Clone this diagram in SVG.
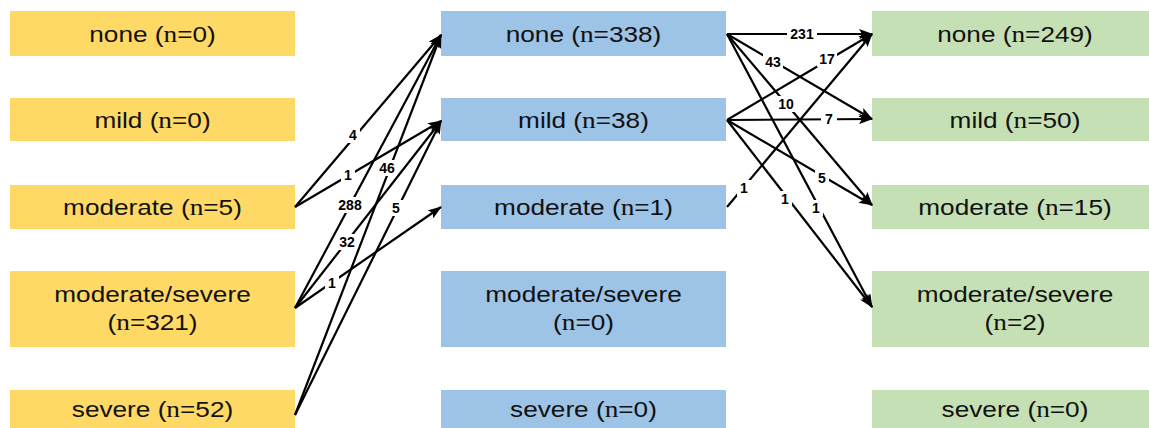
<svg xmlns="http://www.w3.org/2000/svg" width="1149" height="428" viewBox="0 0 1149 428">
  <style>
    .box-a { fill: #FFD966; }
    .box-b { fill: #9DC3E6; }
    .box-c { fill: #C5E0B4; }
    .lbl { font-family: "Liberation Sans", Arial, sans-serif; font-size: 22px; fill: #111; text-anchor: middle; }
    .n { font-family: "Liberation Serif", "Times New Roman", serif; font-size: 23px; }
    .edge { stroke: #000; stroke-width: 2.2; fill: none; marker-end: url(#arrow); }
    .elbl { font-family: "Liberation Sans", Arial, sans-serif; font-size: 14px; font-weight: bold; fill: #000; text-anchor: middle; }
    .bg { fill: #fff; }
  </style>
  <defs>
    <marker id="arrow" viewBox="0 0 14 10" refX="13" refY="5" markerWidth="14" markerHeight="10" markerUnits="userSpaceOnUse" orient="auto">
      <path d="M0,0 L14,5 L0,10 L3,5 z" fill="#000"/>
    </marker>
  </defs>

  <!-- baseline column -->
  <g id="a-none"><rect class="box-a" x="10" y="11" width="285" height="45"/>
    <text class="lbl" transform="translate(152.5,42) scale(1.19,1)">none (<tspan class="n">n</tspan>=0)</text></g>
  <g id="a-mild"><rect class="box-a" x="10" y="98" width="285" height="43"/>
    <text class="lbl" transform="translate(152.5,128) scale(1.19,1)">mild (<tspan class="n">n</tspan>=0)</text></g>
  <g id="a-moderate"><rect class="box-a" x="10" y="185" width="285" height="44"/>
    <text class="lbl" transform="translate(152.5,215) scale(1.19,1)">moderate (<tspan class="n">n</tspan>=5)</text></g>
  <g id="a-modsev"><rect class="box-a" x="10" y="271" width="285" height="76"/>
    <text class="lbl" transform="translate(152.5,302) scale(1.19,1)">moderate/severe</text>
    <text class="lbl" transform="translate(152.5,330) scale(1.19,1)">(<tspan class="n">n</tspan>=321)</text></g>
  <g id="a-severe"><rect class="box-a" x="10" y="390" width="285" height="50"/>
    <text class="lbl" transform="translate(152.5,417) scale(1.19,1)">severe (<tspan class="n">n</tspan>=52)</text></g>

  <!-- middle column -->
  <g id="b-none"><rect class="box-b" x="441" y="11" width="285" height="45"/>
    <text class="lbl" transform="translate(583.5,42) scale(1.19,1)">none (<tspan class="n">n</tspan>=338)</text></g>
  <g id="b-mild"><rect class="box-b" x="441" y="98" width="285" height="43"/>
    <text class="lbl" transform="translate(583.5,128) scale(1.19,1)">mild (<tspan class="n">n</tspan>=38)</text></g>
  <g id="b-moderate"><rect class="box-b" x="441" y="185" width="285" height="44"/>
    <text class="lbl" transform="translate(583.5,215) scale(1.19,1)">moderate (<tspan class="n">n</tspan>=1)</text></g>
  <g id="b-modsev"><rect class="box-b" x="441" y="271" width="285" height="76"/>
    <text class="lbl" transform="translate(583.5,302) scale(1.19,1)">moderate/severe</text>
    <text class="lbl" transform="translate(583.5,330) scale(1.19,1)">(<tspan class="n">n</tspan>=0)</text></g>
  <g id="b-severe"><rect class="box-b" x="441" y="390" width="285" height="50"/>
    <text class="lbl" transform="translate(583.5,417) scale(1.19,1)">severe (<tspan class="n">n</tspan>=0)</text></g>

  <!-- right column -->
  <g id="c-none"><rect class="box-c" x="872" y="11" width="286" height="45"/>
    <text class="lbl" transform="translate(1015,42) scale(1.19,1)">none (<tspan class="n">n</tspan>=249)</text></g>
  <g id="c-mild"><rect class="box-c" x="872" y="98" width="286" height="43"/>
    <text class="lbl" transform="translate(1015,128) scale(1.19,1)">mild (<tspan class="n">n</tspan>=50)</text></g>
  <g id="c-moderate"><rect class="box-c" x="872" y="185" width="286" height="44"/>
    <text class="lbl" transform="translate(1015,215) scale(1.19,1)">moderate (<tspan class="n">n</tspan>=15)</text></g>
  <g id="c-modsev"><rect class="box-c" x="872" y="271" width="286" height="76"/>
    <text class="lbl" transform="translate(1015,302) scale(1.19,1)">moderate/severe</text>
    <text class="lbl" transform="translate(1015,330) scale(1.19,1)">(<tspan class="n">n</tspan>=2)</text></g>
  <g id="c-severe"><rect class="box-c" x="872" y="390" width="286" height="50"/>
    <text class="lbl" transform="translate(1015,417) scale(1.19,1)">severe (<tspan class="n">n</tspan>=0)</text></g>

  <!-- transitions -->
  <g id="connectors">
    <line class="edge" x1="295" y1="207" x2="441" y2="35"/>
    <line class="edge" x1="295" y1="207" x2="441" y2="121"/>
    <line class="edge" x1="295" y1="308" x2="441" y2="35"/>
    <line class="edge" x1="295" y1="308" x2="441" y2="121"/>
    <line class="edge" x1="295" y1="308" x2="441" y2="207"/>
    <line class="edge" x1="295" y1="415" x2="441" y2="35"/>
    <line class="edge" x1="295" y1="415" x2="441" y2="121"/>

    <line class="edge" x1="727" y1="34" x2="872" y2="34"/>
    <line class="edge" x1="727" y1="34" x2="872" y2="119"/>
    <line class="edge" x1="727" y1="34" x2="872" y2="205"/>
    <line class="edge" x1="727" y1="34" x2="872" y2="307"/>
    <line class="edge" x1="727" y1="120" x2="872" y2="34"/>
    <line class="edge" x1="727" y1="120" x2="872" y2="119"/>
    <line class="edge" x1="727" y1="120" x2="872" y2="205"/>
    <line class="edge" x1="727" y1="120" x2="872" y2="307"/>
    <line class="edge" x1="727" y1="207" x2="872" y2="34"/>

    <g id="edge-labels">
      <rect class="bg" x="346" y="127" width="14" height="16"/><text class="elbl" x="353" y="140">4</text>
      <rect class="bg" x="341" y="167" width="14" height="16"/><text class="elbl" x="348" y="180">1</text>
      <rect class="bg" x="336" y="197" width="28" height="16"/><text class="elbl" x="350" y="210">288</text>
      <rect class="bg" x="337" y="234" width="20" height="16"/><text class="elbl" x="347" y="247">32</text>
      <rect class="bg" x="325" y="275" width="14" height="16"/><text class="elbl" x="332" y="288">1</text>
      <rect class="bg" x="377" y="160" width="20" height="16"/><text class="elbl" x="387" y="173">46</text>
      <rect class="bg" x="389" y="200" width="14" height="16"/><text class="elbl" x="396" y="213">5</text>

      <rect class="bg" x="787" y="26" width="30" height="16"/><text class="elbl" x="802" y="39">231</text>
      <rect class="bg" x="763" y="54" width="20" height="16"/><text class="elbl" x="773" y="67">43</text>
      <rect class="bg" x="776" y="96" width="20" height="16"/><text class="elbl" x="786" y="109">10</text>
      <rect class="bg" x="809" y="200" width="14" height="16"/><text class="elbl" x="816" y="213">1</text>
      <rect class="bg" x="817" y="51" width="20" height="16"/><text class="elbl" x="827" y="64">17</text>
      <rect class="bg" x="821" y="111" width="16" height="16"/><text class="elbl" x="829" y="124">7</text>
      <rect class="bg" x="815" y="170" width="14" height="16"/><text class="elbl" x="822" y="183">5</text>
      <rect class="bg" x="778" y="191" width="14" height="16"/><text class="elbl" x="785" y="204">1</text>
      <rect class="bg" x="737" y="180" width="14" height="16"/><text class="elbl" x="744" y="193">1</text>
    </g>
  </g>
</svg>
